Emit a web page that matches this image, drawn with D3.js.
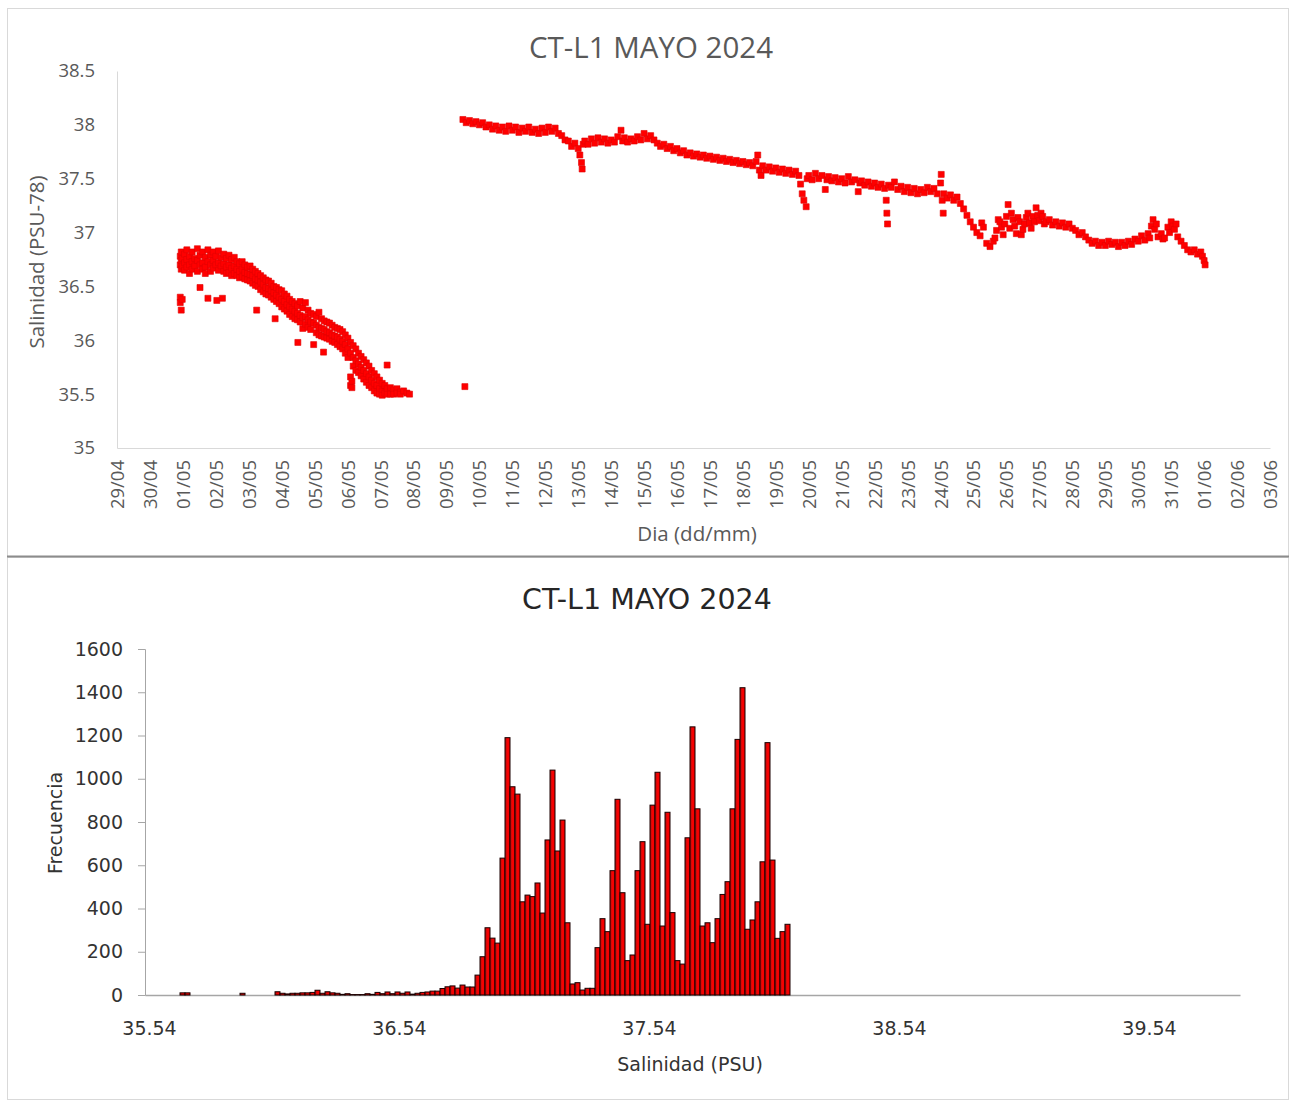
<!DOCTYPE html>
<html>
<head>
<meta charset="utf-8">
<script src="https://cdn.jsdelivr.net/npm/d3@7"></script>
<style>
  html, body { margin: 0; padding: 0; background: #ffffff; }
  svg { display: block; }
</style>
</head>
<body>
<svg id="chart" width="1290" height="1101"></svg>
<script>
// ---------------- DATA ----------------
const chartTitle = "CT-L1 MAYO 2024";

// Scatter (top): [day of May (fractional), salinity PSU-78]
const cloudReadings = [
  [0.92,36.78],[0.92,36.70],[0.92,36.40],[0.92,36.35],
  [0.95,36.82],[0.95,36.74],[0.95,36.66],[0.95,36.28],
  [0.98,36.76],[0.98,36.69],[0.98,36.38],
  [1.05,36.80],[1.05,36.72],[1.05,36.65],
  [1.12,36.84],[1.12,36.75],[1.12,36.68],
  [1.20,36.78],[1.20,36.70],[1.20,36.62],
  [1.28,36.82],[1.28,36.73],[1.28,36.66],
  [1.36,36.76],[1.36,36.69],
  [1.44,36.85],[1.44,36.74],[1.44,36.64],
  [1.52,36.79],[1.52,36.70],[1.52,36.49],
  [1.60,36.82],[1.60,36.72],[1.60,36.66],
  [1.68,36.77],[1.68,36.68],[1.68,36.62],
  [1.76,36.84],[1.76,36.73],[1.76,36.39],
  [1.84,36.79],[1.84,36.70],[1.84,36.64],
  [1.92,36.82],[1.92,36.74],[1.92,36.67],
  [2.00,36.78],[2.00,36.70],[2.03,36.37],
  [2.08,36.83],[2.08,36.72],[2.08,36.65],
  [2.16,36.77],[2.16,36.69],[2.20,36.39],
  [2.24,36.80],[2.24,36.71],[2.24,36.64],
  [2.32,36.76],[2.32,36.68],[2.32,36.62],
  [2.40,36.79],[2.40,36.70],[2.40,36.63],
  [2.48,36.75],[2.48,36.67],[2.48,36.60],
  [2.56,36.77],[2.56,36.69],[2.56,36.62],
  [2.64,36.73],[2.64,36.66],[2.64,36.60],
  [2.72,36.71],[2.72,36.64],[2.72,36.58],
  [2.80,36.73],[2.80,36.66],[2.80,36.59],
  [2.88,36.70],[2.88,36.63],[2.88,36.57],
  [2.96,36.68],[2.96,36.62],[2.96,36.56],
  [3.04,36.69],[3.04,36.61],[3.04,36.55],
  [3.12,36.66],[3.12,36.60],[3.12,36.53],
  [3.20,36.64],[3.20,36.57],[3.20,36.51],[3.24,36.28],
  [3.28,36.62],[3.28,36.56],[3.28,36.50],
  [3.36,36.60],[3.36,36.54],[3.36,36.47],
  [3.44,36.58],[3.44,36.52],[3.44,36.45],
  [3.52,36.56],[3.52,36.49],[3.52,36.43],
  [3.60,36.55],[3.60,36.48],[3.60,36.42],
  [3.68,36.53],[3.68,36.46],[3.68,36.40],
  [3.76,36.50],[3.76,36.44],[3.76,36.38],[3.80,36.20],
  [3.84,36.49],[3.84,36.42],[3.84,36.36],
  [3.92,36.47],[3.92,36.40],[3.92,36.34],
  [4.00,36.46],[4.00,36.38],[4.00,36.31],
  [4.08,36.43],[4.08,36.36],[4.08,36.29],
  [4.16,36.41],[4.16,36.33],[4.16,36.27],
  [4.24,36.38],[4.24,36.31],[4.24,36.24],
  [4.32,36.36],[4.32,36.29],[4.32,36.22],
  [4.40,36.34],[4.40,36.27],[4.40,36.20],
  [4.48,36.32],[4.48,36.25],[4.48,36.19],[4.49,35.98],
  [4.56,36.36],[4.56,36.23],[4.56,36.17],
  [4.64,36.30],[4.64,36.21],[4.64,36.11],
  [4.72,36.35],[4.72,36.22],[4.72,36.15],
  [4.80,36.28],[4.80,36.19],[4.80,36.12],
  [4.88,36.25],[4.88,36.17],[4.88,36.10],
  [4.97,36.24],[4.97,36.16],[4.97,35.96],
  [5.05,36.22],[5.05,36.14],[5.05,36.07],
  [5.13,36.26],[5.13,36.12],[5.13,36.05],
  [5.21,36.20],[5.21,36.11],[5.21,36.04],[5.27,35.89],
  [5.29,36.18],[5.29,36.10],[5.29,36.03],
  [5.37,36.17],[5.37,36.08],[5.37,36.02],
  [5.45,36.16],[5.45,36.07],[5.45,36.01],
  [5.53,36.14],[5.53,36.05],[5.53,35.99],
  [5.61,36.12],[5.61,36.04],[5.61,35.98],
  [5.69,36.11],[5.69,36.03],[5.69,35.96],
  [5.77,36.10],[5.77,36.01],[5.77,35.94],
  [5.85,36.08],[5.85,35.99],[5.85,35.92],
  [5.93,36.05],[5.93,35.96],[5.93,35.88],
  [6.01,36.02],[6.01,35.92],[6.01,35.84],
  [6.09,35.98],[6.09,35.88],[6.09,35.66],[6.09,35.58],
  [6.13,35.62],[6.13,35.56],
  [6.17,35.95],[6.17,35.84],[6.17,35.76],
  [6.25,35.92],[6.25,35.81],[6.25,35.72],
  [6.33,35.88],[6.33,35.78],[6.33,35.70],
  [6.41,35.85],[6.41,35.75],[6.41,35.67],
  [6.49,35.82],[6.49,35.72],[6.49,35.64],
  [6.57,35.79],[6.57,35.69],[6.57,35.61],
  [6.65,35.76],[6.65,35.66],[6.65,35.58],
  [6.73,35.72],[6.73,35.63],[6.73,35.56],
  [6.81,35.69],[6.81,35.60],[6.81,35.53],
  [6.89,35.66],[6.89,35.58],[6.89,35.51],
  [6.97,35.63],[6.97,35.55],[6.97,35.50],
  [7.05,35.60],[7.05,35.53],[7.05,35.49],
  [7.13,35.58],[7.13,35.51],
  [7.20,35.77],[7.20,35.55],[7.20,35.50],
  [7.30,35.56],[7.30,35.50],
  [7.40,35.54],[7.40,35.50],
  [7.50,35.55],[7.50,35.51],
  [7.60,35.52],[7.60,35.50],
  [7.70,35.53],[7.80,35.51],[7.88,35.50],
  [9.56,35.57]
];

const bandReadings = [
  [9.50,38.05],[9.60,38.02],[9.70,38.04],[9.80,38.01],[9.90,38.03],
  [10.0,38.00],[10.1,38.02],[10.2,37.98],[10.3,38.00],[10.4,37.96],
  [10.5,37.99],[10.6,37.95],[10.7,37.98],[10.8,37.94],[10.9,37.99],
  [11.0,37.95],[11.1,37.98],[11.2,37.93],[11.3,37.97],[11.4,37.94],
  [11.5,37.98],[11.6,37.93],[11.7,37.96],[11.8,37.92],[11.9,37.97],
  [12.0,37.93],[12.1,37.98],[12.2,37.94],[12.3,37.97],[12.4,37.92],
  [12.5,37.90],[12.6,37.86],[12.7,37.85],[12.8,37.80],[12.9,37.83],
  [13.0,37.78],[13.05,37.72],[13.1,37.65],[13.12,37.59],[13.15,37.82],
  [13.2,37.85],[13.3,37.82],[13.4,37.87],[13.5,37.83],[13.6,37.88],
  [13.7,37.84],[13.8,37.87],[13.9,37.83],[14.0,37.86],[14.1,37.84],
  [14.2,37.89],[14.3,37.95],[14.35,37.85],[14.4,37.88],[14.5,37.84],
  [14.6,37.87],[14.7,37.85],[14.8,37.89],[14.9,37.86],[15.0,37.92],
  [15.1,37.87],[15.2,37.90],[15.3,37.86],[15.4,37.83],[15.5,37.80],
  [15.6,37.82],[15.7,37.78],[15.8,37.80],[15.9,37.76],[16.0,37.78],
  [16.1,37.74],[16.2,37.76],[16.3,37.72],[16.4,37.74],[16.5,37.71],
  [16.6,37.73],[16.7,37.70],[16.8,37.72],[16.9,37.69],[17.0,37.71],
  [17.1,37.68],[17.2,37.70],[17.3,37.67],[17.4,37.69],[17.5,37.66],
  [17.6,37.68],[17.7,37.65],[17.8,37.67],[17.9,37.64],[18.0,37.66],
  [18.1,37.63],[18.2,37.65],[18.3,37.62],[18.4,37.66],[18.45,37.72],
  [18.5,37.58],[18.55,37.53],[18.6,37.62],[18.7,37.58],[18.8,37.61],
  [18.9,37.57],[19.0,37.60],[19.1,37.56],[19.2,37.59],[19.3,37.55],
  [19.4,37.58],[19.5,37.54],[19.6,37.57],[19.7,37.53],[19.75,37.45],
  [19.8,37.36],[19.85,37.30],[19.92,37.24],[19.95,37.50],[20.0,37.53],
  [20.1,37.49],[20.2,37.55],[20.3,37.50],[20.4,37.53],[20.5,37.40],
  [20.55,37.49],[20.6,37.52],[20.7,37.48],[20.8,37.51],[20.9,37.47],
  [21.0,37.50],[21.1,37.46],[21.2,37.52],[21.3,37.47],[21.4,37.49],
  [21.5,37.38],[21.55,37.46],[21.6,37.48],[21.7,37.44],[21.8,37.47],
  [21.9,37.43],[22.0,37.46],[22.1,37.42],[22.2,37.45],[22.3,37.41],
  [22.35,37.30],[22.37,37.18],[22.39,37.08],[22.42,37.44],[22.5,37.42],
  [22.6,37.47],[22.7,37.40],[22.8,37.43],[22.9,37.38],[23.0,37.42],
  [23.1,37.37],[23.2,37.41],[23.3,37.36],[23.4,37.40],[23.5,37.37],
  [23.6,37.42],[23.7,37.38],[23.8,37.41],[23.9,37.36],[24.0,37.46],
  [24.02,37.54],[24.05,37.30],[24.08,37.18],[24.1,37.36],[24.2,37.32],
  [24.3,37.35],[24.4,37.30],[24.5,37.33],[24.6,37.27],[24.7,37.22],
  [24.8,37.16],[24.9,37.10],[25.0,37.05],[25.1,37.00],[25.2,36.97],
  [25.25,37.09],[25.3,37.05],[25.4,36.90],[25.5,36.87],[25.6,36.92],
  [25.65,36.95],[25.7,37.02],[25.75,37.12],[25.8,37.10],[25.85,37.05],
  [25.9,36.98],[25.95,37.08],[26.0,37.15],[26.05,37.26],[26.1,37.04],
  [26.15,37.18],[26.2,37.12],[26.25,37.06],[26.3,36.99],[26.35,37.14],
  [26.4,37.10],[26.45,36.98],[26.5,37.03],[26.55,37.08],[26.6,37.14],
  [26.65,37.18],[26.7,37.09],[26.75,37.04],[26.8,37.15],[26.85,37.10],
  [26.9,37.23],[26.95,37.16],[27.0,37.11],[27.05,37.18],[27.1,37.15],
  [27.15,37.08],[27.2,37.10],[27.3,37.12],[27.4,37.07],[27.5,37.10],
  [27.6,37.06],[27.7,37.09],[27.8,37.05],[27.9,37.08],[28.0,37.04],
  [28.1,37.02],[28.2,36.98],[28.3,37.00],[28.4,36.96],[28.5,36.93],
  [28.6,36.90],[28.7,36.92],[28.8,36.88],[28.9,36.91],[29.0,36.88],
  [29.1,36.92],[29.2,36.89],[29.3,36.91],[29.4,36.87],[29.5,36.91],
  [29.6,36.88],[29.7,36.92],[29.8,36.89],[29.9,36.94],[30.0,36.92],
  [30.1,36.97],[30.2,36.93],[30.3,36.99],[30.35,36.95],[30.4,37.06],
  [30.45,37.12],[30.5,37.03],[30.55,37.08],[30.6,36.96],[30.7,36.99],
  [30.75,36.94],[30.8,36.95],[30.9,37.05],[30.95,37.00],[31.0,37.10],
  [31.05,37.06],[31.1,37.03],[31.15,37.08],[31.2,36.96],[31.3,36.92],
  [31.4,36.88],[31.5,36.84],[31.6,36.82],[31.7,36.84],[31.8,36.80],
  [31.9,36.82],[31.95,36.78],[32.0,36.74],[32.03,36.70]
];

const salinityTicks = [35, 35.5, 36, 36.5, 37, 37.5, 38, 38.5];

// Histogram (bottom): bins of 0.02 PSU starting at 35.54
const binStart = 35.54;
const binStep = 0.02;
const binCount = 219;
const frequencies = [
  0,0,0,0,0,0,0,10,10,0, 0,0,0,0,0,0,0,0,0,8,
  0,0,0,0,0,0,15,8,5,8, 8,10,10,12,22,8,15,10,8,3,
  6,2,2,2,6,3,12,6,14,6, 14,8,14,4,8,12,14,18,18,30,
  38,42,32,46,37,37,92,177,311,263, 240,633,1190,963,929,431,462,455,518,379,
  717,1040,666,809,334,51,57,23,31,31, 219,353,293,575,905,473,159,185,575,709,
  327,878,1030,319,845,381,159,143,727,1240, 861,319,334,242,353,465,524,861,1182,1421,
  304,347,431,616,1167,624,262,293,327
];
const freqTicks = [0, 200, 400, 600, 800, 1000, 1200, 1400, 1600];
const histTickLabels = ["35.54", "36.54", "37.54", "38.54", "39.54"];

// ---------------- DRAW ----------------
(function draw() {
const svg = d3.select("#chart");

// panel frames
svg.append("rect").attr("x", 7.5).attr("y", 8.5).attr("width", 1281).attr("height", 548)
  .attr("fill", "#fff").attr("stroke", "#d9d9d9");
svg.append("rect").attr("x", 7.5).attr("y", 557.5).attr("width", 1281).attr("height", 542)
  .attr("fill", "#fff").attr("stroke", "#d9d9d9");
svg.append("line").attr("x1", 7).attr("x2", 1289).attr("y1", 556.5).attr("y2", 556.5)
  .attr("stroke", "#8c8c8c").attr("stroke-width", 2);

// ---- Top scatter ----
const topFont = "'Open Sans', 'Liberation Sans', sans-serif";
const grey = "#595959";
const mayDate = m => new Date(2024, 4, 1, 0, 0).getTime() + (m - 1) * 864e5;

const x = d3.scaleTime()
  .domain([new Date(2024, 3, 29), new Date(2024, 5, 3)])
  .range([117, 1270]);
const y = d3.scaleLinear().domain([35, 38.5]).range([448, 71]);

const topG = svg.append("g");
topG.append("text").attr("x", 651).attr("y", 58).attr("text-anchor", "middle")
  .attr("font-family", topFont).attr("font-size", 29.5).attr("fill", grey).text(chartTitle);

const yAxisTop = d3.axisLeft(y).tickValues(salinityTicks).tickSize(0).tickPadding(22)
  .tickFormat(d3.format("~g"));
const gyt = topG.append("g").attr("transform", "translate(117,0)").call(yAxisTop);
gyt.select(".domain").attr("stroke", "#d9d9d9");
gyt.selectAll("text").attr("font-family", topFont).attr("font-size", 18.5).attr("fill", grey);

const xAxisTop = d3.axisBottom(x).ticks(d3.timeDay.every(1)).tickSize(0)
  .tickFormat(d3.timeFormat("%d/%m"));
const gxt = topG.append("g").attr("transform", "translate(0,448)").call(xAxisTop);
gxt.select(".domain").attr("stroke", "#d9d9d9");
gxt.selectAll("text")
  .attr("font-family", topFont).attr("font-size", 18.5).attr("fill", grey)
  .attr("text-anchor", "end").attr("transform", "rotate(-90)")
  .attr("x", -12).attr("y", 0).attr("dy", "0.35em");

topG.append("text").attr("x", 697).attr("y", 541).attr("text-anchor", "middle")
  .attr("font-family", topFont).attr("font-size", 20.5).attr("fill", grey).text("Dia (dd/mm)");
topG.append("text").attr("transform", "translate(44,262) rotate(-90)").attr("text-anchor", "middle")
  .attr("font-family", topFont).attr("font-size", 20.5).attr("fill", grey).text("Salinidad (PSU-78)");

const marker = d3.symbol().type(d3.symbolSquare).size(36);
topG.append("g").selectAll("path")
  .data(cloudReadings.concat(bandReadings))
  .join("path")
  .attr("d", marker)
  .attr("transform", d => `translate(${x(mayDate(d[0]))},${y(d[1])})`)
  .attr("fill", "#ff0000").attr("stroke", "#e00000").attr("stroke-width", 0.6);

// ---- Bottom histogram ----
const botFont = "'DejaVu Sans', Verdana, sans-serif";
const dark = "#333333";
const bins = d3.range(binCount);
const xb = d3.scaleBand().domain(bins).range([145, 1240]).padding(0);
const yb = d3.scaleLinear().domain([0, 1600]).range([995, 649]);

const botG = svg.append("g");
botG.append("text").attr("x", 647).attr("y", 609).attr("text-anchor", "middle")
  .attr("font-family", botFont).attr("font-size", 28.5).attr("fill", "#262626").text(chartTitle);

const defs = svg.append("defs");
const grad = defs.append("linearGradient").attr("id", "barGrad").attr("x1", 0).attr("x2", 1).attr("y1", 0).attr("y2", 0);
grad.append("stop").attr("offset", "0%").attr("stop-color", "#a31515");
grad.append("stop").attr("offset", "55%").attr("stop-color", "#ff0000");
grad.append("stop").attr("offset", "100%").attr("stop-color", "#e00000");

const gxb = botG.append("g").attr("transform", "translate(0,995)")
  .call(d3.axisBottom(xb).tickValues([]).tickSize(0));
gxb.select(".domain").attr("stroke", "#a6a6a6").attr("stroke-width", 1.3);

botG.append("g").selectAll("rect")
  .data(frequencies.map((f, i) => ({ i, f })))
  .join("rect")
  .attr("x", d => xb(d.i))
  .attr("width", xb.bandwidth())
  .attr("y", d => yb(d.f))
  .attr("height", d => yb(0) - yb(d.f))
  .attr("fill", "url(#barGrad)")
  .attr("stroke", "#1a0000").attr("stroke-width", 1);

const gyb = botG.append("g").attr("transform", "translate(145,0)")
  .call(d3.axisLeft(yb).tickValues(freqTicks).tickSize(7).tickPadding(15).tickFormat(d3.format("d")));
gyb.select(".domain").attr("stroke", "#a6a6a6");
gyb.selectAll(".tick line").attr("stroke", "#a6a6a6");
gyb.selectAll("text").attr("font-family", botFont).attr("font-size", 19).attr("fill", dark);

botG.append("g").selectAll("text")
  .data(histTickLabels)
  .join("text")
  .attr("x", d => xb(Math.round((+d - binStart) / binStep)) + xb.bandwidth() / 2 + 2)
  .attr("y", 1035)
  .attr("text-anchor", "middle")
  .attr("font-family", botFont).attr("font-size", 19).attr("fill", dark)
  .text(d => d);

botG.append("text").attr("x", 690).attr("y", 1071).attr("text-anchor", "middle")
  .attr("font-family", botFont).attr("font-size", 19).attr("fill", dark).text("Salinidad (PSU)");
botG.append("text").attr("transform", "translate(62,823) rotate(-90)").attr("text-anchor", "middle")
  .attr("font-family", botFont).attr("font-size", 19).attr("fill", dark).text("Frecuencia");
})();
</script>
</body>
</html>
